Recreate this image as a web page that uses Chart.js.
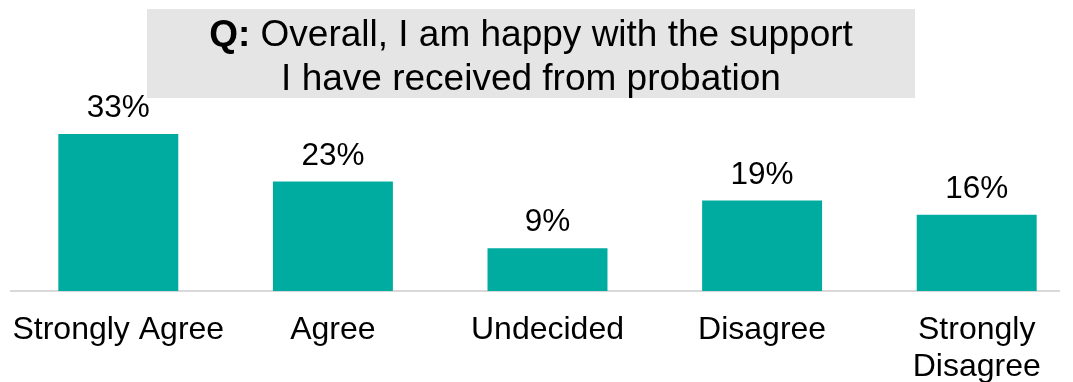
<!DOCTYPE html>
<html>
<head>
<meta charset="utf-8">
<script src="https://cdn.jsdelivr.net/npm/chart.js@4"></script>
<style>
  html, body { margin: 0; padding: 0; background: #fff; overflow: hidden; }
  #wrap { position: relative; width: 1084px; height: 382px; }
</style>
</head>
<body>
<div id="wrap"><canvas id="chart"></canvas></div>
<script>
const categories = ["Strongly Agree", "Agree", "Undecided", "Disagree", ["Strongly", "Disagree"]];
const percents = [33, 23, 9, 19, 16];
const titleLead = "Q:";
const titleLines = ["Overall, I am happy with the support", "I have received from probation"];

const FONT = '"Liberation Sans", Arial, sans-serif';
const TEAL = "#00ac9f";

// grey question box on top of the plot
const questionBox = {
  id: "questionBox",
  afterDatasetsDraw(chart) {
    const ctx = chart.ctx;
    ctx.save();
    ctx.fillStyle = "#e5e5e5";
    ctx.fillRect(147, 9, 768, 89);
    const cx = 531;
    ctx.fillStyle = "#000";
    ctx.textBaseline = "alphabetic";
    ctx.textAlign = "left";
    const bold = "bold 37px " + FONT;
    const norm = "37px " + FONT;
    ctx.font = bold;
    const lead = titleLead + " ";
    const wLead = ctx.measureText(lead).width;
    ctx.font = norm;
    const w1 = ctx.measureText(titleLines[0]).width;
    let x = cx - (wLead + w1) / 2;
    ctx.font = bold;
    ctx.fillText(lead, x, 46);
    ctx.font = norm;
    ctx.fillText(titleLines[0], x + wLead, 46);
    ctx.textAlign = "center";
    ctx.fillText(titleLines[1], cx, 90);
    ctx.restore();
  }
};

// light baseline under the bars
const baseline = {
  id: "baseline",
  beforeDatasetsDraw(chart) {
    const ctx = chart.ctx;
    const y = chart.scales.y.getPixelForValue(0);
    ctx.save();
    ctx.strokeStyle = "#d9d9d9";
    ctx.lineWidth = 2;
    ctx.beginPath();
    ctx.moveTo(10, y);
    ctx.lineTo(1060, y);
    ctx.stroke();
    ctx.restore();
  }
};

// percentage above each bar
const valueLabels = {
  id: "valueLabels",
  afterDatasetsDraw(chart) {
    const ctx = chart.ctx;
    const meta = chart.getDatasetMeta(0);
    ctx.save();
    ctx.font = "31.5px " + FONT;
    ctx.fillStyle = "#000";
    ctx.textAlign = "center";
    ctx.textBaseline = "alphabetic";
    meta.data.forEach((bar, i) => {
      ctx.fillText(percents[i] + "%", bar.x, bar.y - 17);
    });
    ctx.restore();
  }
};

new Chart(document.getElementById("chart"), {
  type: "bar",
  data: {
    labels: categories,
    datasets: [{
      data: percents,
      backgroundColor: TEAL,
      borderWidth: 0,
      barPercentage: 0.559,
      categoryPercentage: 1
    }]
  },
  options: {
    responsive: true,
    maintainAspectRatio: false,
    animation: false,
    layout: { padding: { left: 11, right: 0, top: 100.6, bottom: 0 } },
    plugins: {
      legend: { display: false },
      tooltip: { enabled: false },
      title: { display: false }
    },
    scales: {
      x: {
        grid: { display: false, drawTicks: false },
        border: { display: false },
        ticks: {
          color: "#000",
          padding: 20,
          maxRotation: 0,
          autoSkip: false,
          font: { family: FONT, size: 32, lineHeight: 1.17 }
        },
        afterFit(scale) {
          // keep the plot edges fixed, labels may run past them
          scale.height = 91;
          scale.paddingLeft = 0;
          scale.paddingRight = 0;
        }
      },
      y: {
        display: false,
        min: 0,
        max: 40
      }
    }
  },
  plugins: [baseline, valueLabels, questionBox]
});
</script>
</body>
</html>
